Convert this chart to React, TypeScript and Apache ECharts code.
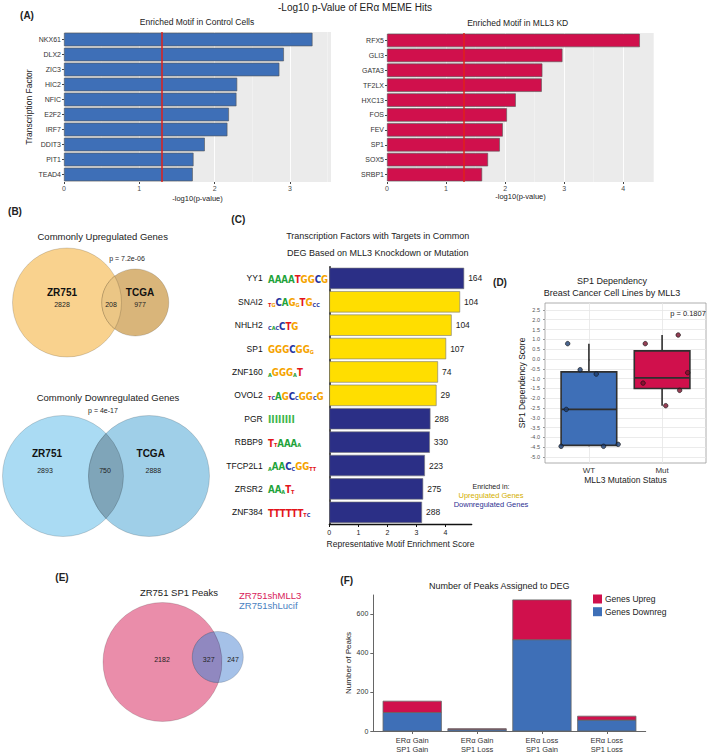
import React, { useEffect, useRef } from "react";
import * as echarts from "echarts";

// ---------- Panel A data ----------
const ctrlFactors = ["NKX61", "DLX2", "ZIC3", "HIC2", "NFIC", "E2F2", "IRF7", "DDIT3", "PIT1", "TEAD4"];
const ctrlLogP = [3.3, 2.92, 2.86, 2.3, 2.29, 2.19, 2.17, 1.87, 1.72, 1.71];
const kdFactors = ["RFX5", "GLI3", "GATA3", "TF2LX", "HXC13", "FOS", "FEV", "SP1", "SOX5", "SRBP1"];
const kdLogP = [4.28, 2.97, 2.63, 2.62, 2.18, 2.03, 1.96, 1.91, 1.71, 1.61];
const pThreshold = 1.3;

// ---------- Panel B data ----------
const upCounts = [2828, 208, 977];
const upP = "p = 7.2e-06";
const downCounts = [2893, 750, 2888];
const downP = "p = 4e-17";

// ---------- Panel C data ----------
const cFactors = ["YY1", "SNAI2", "NHLH2", "SP1", "ZNF160", "OVOL2", "PGR", "RBBP9", "TFCP2L1", "ZRSR2", "ZNF384"];
const cScores = [4.64, 4.5, 4.21, 4.02, 3.74, 3.69, 3.48, 3.46, 3.29, 3.23, 3.19];
const cTargets = [164, 104, 104, 107, 74, 29, 288, 330, 223, 275, 288];
const cEnrichedIn = ["down", "up", "up", "up", "up", "up", "down", "down", "down", "down", "down"];
const cMotifs = ["AAAATGGCG", "tgCAGgTGcc", "cacCTG", "GGGCGGg", "aGGGaT", "tcAGCcGGcG", "||||||||", "TtAAAa", "aAACcGGtt", "AAaTt", "TTTTTTtc"];
const cTicks = [0, 1, 2, 3, 4];

// ---------- Panel D data ----------
const dGroups = ["WT", "Mut"];
const wtScores = [0.78, -0.55, -0.77, -2.57, -4.45, -4.45, -4.35];
const wtJitter = [-0.29, -0.12, 0.1, -0.31, -0.38, 0.2, 0.4];
const mutScores = [0.78, 1.22, -0.7, -1.23, -1.6, -2.38];
const mutJitter = [-0.23, 0.22, 0.35, -0.26, 0.24, 0.05];
const dTicks = [-5, -4.5, -4, -3.5, -3, -2.5, -2, -1.5, -1, -0.5, 0, 0.5, 1, 1.5, 2, 2.5];
const dP = "p = 0.1807";

// ---------- Panel E data ----------
const peakCounts = [2182, 327, 247];
const peakSets = ["ZR751shMLL3", "ZR751shLucif"];

// ---------- Panel F data ----------
const fCategories = ["ERα Gain\nSP1 Gain", "ERα Gain\nSP1 Loss", "ERα Loss\nSP1 Gain", "ERα Loss\nSP1 Loss"];
const fDown = [95, 8, 468, 56];
const fUp = [58, 4, 204, 20];
const fTicks = [0, 200, 400, 600];

// ---------- styles / layout ----------
const FONT = "Liberation Sans";
const LOGO_FONT = "DejaVu Sans Condensed";
const BLUE = "#3E6FB7";
const RED = "#D0104C";
const NAVY = "#2B2F86";
const YELLOW = "#FFDE00";
const NT: Record<string, string> = { A: "#1FA33A", C: "#2434A0", G: "#F5A300", T: "#E3141B" };

const VENN = {
  up: { c1: [67, 302.5, 54.5], c2: [135.3, 302.5, 33.5], f1: "#F9D28E", f2: "#D9B57A", f12: "#EBC685" },
  down: { c1: [63, 476, 60.5], c2: [149, 476, 60.5], f1: "#AADBF3", f2: "#9FCFE8", f12: "#7FA5B9" },
  peaks: { c1: [162.5, 662, 59.5], c2: [217.8, 657, 25.5], f1: "#EA8DAA", f2: "#A5C1E8", f12: "#9088C0" },
};

function lensPath(c1: number[], c2: number[]) {
  const [x1, y1, r1] = c1;
  const [x2, y2, r2] = c2;
  const dx = x2 - x1, dy = y2 - y1;
  const d = Math.sqrt(dx * dx + dy * dy);
  const a = (d * d + r1 * r1 - r2 * r2) / (2 * d);
  const h = Math.sqrt(Math.max(r1 * r1 - a * a, 0));
  const ux = dx / d, uy = dy / d;
  const mx = x1 + a * ux, my = y1 + a * uy;
  const p1x = mx + h * uy, p1y = my - h * ux;
  const p2x = mx - h * uy, p2y = my + h * ux;
  const large2 = a > d ? 1 : 0;
  const large1 = a < 0 ? 1 : 0;
  return `M${p1x} ${p1y} A${r2} ${r2} 0 ${large2} 0 ${p2x} ${p2y} A${r1} ${r1} 0 ${large1} 0 ${p1x} ${p1y} Z`;
}

let registered = false;
function registerLenses() {
  if (registered) return;
  registered = true;
  (Object.keys(VENN) as (keyof typeof VENN)[]).forEach((k) => {
    const v = VENN[k];
    echarts.graphic.registerShape("lens_" + k, echarts.graphic.extendPath(lensPath(v.c1, v.c2), {}) as any);
  });
}

function txt(text: string, x: number, y: number, o: any = {}) {
  return {
    type: "text",
    x,
    y,
    silent: true,
    style: {
      text,
      fontSize: o.size ?? 9,
      fontWeight: o.bold ? "bold" : "normal",
      fontFamily: FONT,
      fill: o.color ?? "#222",
      textAlign: o.align ?? "center",
      textVerticalAlign: "middle",
    },
  };
}

function vennGraphics(key: keyof typeof VENN) {
  const v = VENN[key];
  const stroke = "rgba(0,0,0,0.25)";
  return [
    { type: "circle", shape: { cx: v.c1[0], cy: v.c1[1], r: v.c1[2] }, style: { fill: v.f1, stroke, lineWidth: 0.6 }, silent: true },
    { type: "circle", shape: { cx: v.c2[0], cy: v.c2[1], r: v.c2[2] }, style: { fill: v.f2, stroke, lineWidth: 0.6 }, silent: true },
    { type: "lens_" + key, x: 0, y: 0, style: { fill: v.f12, stroke, lineWidth: 0.6 }, silent: true },
  ];
}

function quantile(sorted: number[], p: number) {
  const pos = (sorted.length - 1) * p;
  const lo = Math.floor(pos), hi = Math.ceil(pos);
  return sorted[lo] + (sorted[hi] - sorted[lo]) * (pos - lo);
}
function boxStats(vals: number[]) {
  const s = [...vals].sort((a, b) => a - b);
  const q1 = quantile(s, 0.25), med = quantile(s, 0.5), q3 = quantile(s, 0.75);
  const iqr = q3 - q1;
  const lw = s.find((v) => v >= q1 - 1.5 * iqr)!;
  const hw = [...s].reverse().find((v) => v <= q3 + 1.5 * iqr)!;
  return [lw, q1, med, q3, hw];
}

function motifLabel(m: string) {
  return m
    .split("")
    .map((ch) => {
      if (ch === "|") return "{bar|I}";
      if (ch === ch.toUpperCase()) return `{${ch}|${ch}}`;
      return `{${ch}|${ch.toUpperCase()}}`;
    })
    .join("");
}

const motifRich: any = { bar: { fontSize: 10, fontWeight: "bold", fontFamily: LOGO_FONT, color: "#3DB54A", verticalAlign: "bottom", lineHeight: 12 } };
["A", "C", "G", "T"].forEach((n) => {
  motifRich[n] = { fontSize: 9.6, fontWeight: "bold", fontFamily: LOGO_FONT, color: NT[n], verticalAlign: "bottom", lineHeight: 12 };
  motifRich[n.toLowerCase()] = { fontSize: 5.5, fontWeight: "bold", fontFamily: LOGO_FONT, color: NT[n], verticalAlign: "bottom", lineHeight: 12 };
});

function buildOption(): any {
  const boxColors = [BLUE, RED];
  const boxData = [boxStats(wtScores), boxStats(mutScores)].map((s, i) => [i + 1, ...s]);
  const wtPts = wtScores.map((v, i) => [1 + wtJitter[i], v]);
  const mutPts = mutScores.map((v, i) => [2 + mutJitter[i], v]);
  const fData = fDown.map((d, i) => [i + 1, d, fUp[i]]);

  const aX = (max: number, gi: number, nameGap: number) => ({
    gridIndex: gi,
    type: "value",
    min: 0,
    max,
    interval: 1,
    axisLine: { show: false },
    axisTick: { show: true, length: 2, lineStyle: { color: "#444" } },
    axisLabel: { fontSize: 7, color: "#4D4D4D", margin: 3, showMaxLabel: false },
    splitLine: { show: true, lineStyle: { color: "#FFFFFF", width: 0.9 } },
    minorTick: { show: false, splitNumber: 2 },
    minorSplitLine: { show: true, lineStyle: { color: "#F7F7F7", width: 0.5 } },
    name: "-log10(p-value)",
    nameLocation: "middle",
    nameGap,
    nameTextStyle: { fontSize: 7.5, color: "#222", fontFamily: FONT },
  });
  const aY = (data: string[], gi: number, withName: boolean) => ({
    gridIndex: gi,
    type: "category",
    data,
    inverse: true,
    axisLine: { show: false },
    axisTick: { show: true, length: 2, alignWithLabel: true, lineStyle: { color: "#444" } },
    axisLabel: { fontSize: 7, color: "#333", margin: 3, interval: 0 },
    splitLine: { show: false },
    name: withName ? "Transcription Factor" : "",
    nameLocation: "middle",
    nameGap: 31,
    nameTextStyle: { fontSize: 8.5, color: "#222", fontFamily: FONT },
  });
  const aBar = (data: number[], xi: number, color: string) => ({
    type: "bar",
    xAxisIndex: xi,
    yAxisIndex: xi,
    data,
    barCategoryGap: "10%",
    itemStyle: { color, borderColor: "#555", borderWidth: 0.6 },
    markLine: {
      silent: true,
      symbol: "none",
      label: { show: false },
      lineStyle: { color: "#E0201B", width: 1.5, type: "solid" },
      data: [{ xAxis: pThreshold }],
    },
  });

  return {
    animation: false,
    backgroundColor: "#FFFFFF",
    textStyle: { fontFamily: FONT },
    grid: [
      { left: 64, top: 32, width: 267, height: 150, show: true, backgroundColor: "#EBEBEB", borderWidth: 0 },
      { left: 387, top: 33, width: 267, height: 149, show: true, backgroundColor: "#EBEBEB", borderWidth: 0 },
      { left: 329.3, top: 266.7, width: 142.4, height: 257.3 },
      { left: 545, top: 303, width: 161, height: 160, show: true, backgroundColor: "#FFFFFF", borderColor: "#9A9A9A", borderWidth: 0.8 },
      { left: 373.3, top: 595, width: 272.4, height: 137 },
    ],
    xAxis: [
      aX(3.546, 0, 12),
      aX(4.52, 1, 9),
      {
        gridIndex: 2,
        type: "value",
        min: 0,
        max: 4.9,
        axisLine: { show: true, lineStyle: { color: "#111", width: 1.3 } },
        axisTick: { show: true, length: 3, customValues: cTicks, lineStyle: { color: "#111" } },
        axisLabel: { fontSize: 7, color: "#222", margin: 5, customValues: cTicks },
        splitLine: { show: false },
        name: "Representative Motif Enrichment Score",
        nameLocation: "middle",
        nameGap: 15,
        nameTextStyle: { fontSize: 8.5, color: "#222", fontFamily: FONT },
      },
      {
        gridIndex: 3,
        type: "value",
        min: 0.4,
        max: 2.6,
        axisLine: { show: false },
        axisTick: { show: true, length: 2, customValues: [1, 2], lineStyle: { color: "#999" } },
        axisLabel: { fontSize: 8, color: "#333", margin: 3, customValues: [1, 2], formatter: (v: number) => dGroups[Math.round(v) - 1] ?? "" },
        splitLine: { show: true, lineStyle: { color: "#E6E6E6", width: 0.8 } },
        name: "MLL3 Mutation Status",
        nameLocation: "middle",
        nameGap: 12,
        nameTextStyle: { fontSize: 8.5, color: "#222", fontFamily: FONT },
      },
      {
        gridIndex: 4,
        type: "value",
        min: 0.4,
        max: 4.6,
        axisLine: { show: true, lineStyle: { color: "#666", width: 1 } },
        axisTick: { show: true, length: 3, customValues: [1, 2, 3, 4], lineStyle: { color: "#666" } },
        axisLabel: {
          fontSize: 7.5,
          lineHeight: 9,
          color: "#333",
          margin: 5,
          customValues: [1, 2, 3, 4],
          formatter: (v: number) => fCategories[Math.round(v) - 1] ?? "",
        },
        splitLine: { show: false },
      },
    ],
    yAxis: [
      aY(ctrlFactors, 0, true),
      aY(kdFactors, 1, false),
      {
        gridIndex: 2,
        type: "category",
        data: cFactors,
        inverse: true,
        position: "left",
        axisLine: { show: true, lineStyle: { color: "#111", width: 1.5 } },
        axisTick: { show: false },
        axisLabel: { fontSize: 8.5, color: "#111", margin: 66.6, interval: 0 },
      },
      {
        gridIndex: 2,
        type: "category",
        data: cFactors,
        inverse: true,
        position: "left",
        offset: 0,
        axisLine: { show: false },
        axisTick: { show: false },
        axisLabel: {
          interval: 0,
          align: "left",
          margin: 61.3,
          formatter: (_v: string, i: number) => motifLabel(cMotifs[i]),
          rich: motifRich,
        },
      },
      {
        gridIndex: 3,
        type: "value",
        min: -5.3,
        max: 2.85,
        axisLine: { show: false },
        axisTick: { show: true, length: 2, customValues: dTicks, lineStyle: { color: "#999" } },
        axisLabel: { fontSize: 5.5, color: "#555", margin: 5, customValues: dTicks, formatter: (v: number) => v.toFixed(1) },
        splitLine: { show: true, lineStyle: { color: "#E6E6E6", width: 0.8 } },
        name: "SP1 Dependency Score",
        nameLocation: "middle",
        nameGap: 15,
        nameTextStyle: { fontSize: 8.5, color: "#222", fontFamily: FONT },
      },
      {
        gridIndex: 4,
        type: "value",
        min: 0,
        max: 697,
        axisLine: { show: true, lineStyle: { color: "#666", width: 1 } },
        axisTick: { show: true, length: 3, customValues: fTicks, lineStyle: { color: "#666" } },
        axisLabel: { fontSize: 7, color: "#333", margin: 5, customValues: fTicks },
        splitLine: { show: false },
        name: "Number of Peaks",
        nameLocation: "middle",
        nameGap: 20,
        nameTextStyle: { fontSize: 8, color: "#222", fontFamily: FONT },
      },
    ],
    legend: {
      data: ["Genes Upreg", "Genes Downreg"],
      orient: "vertical",
      left: 588,
      top: 589.5,
      itemWidth: 9,
      itemHeight: 9,
      itemGap: 3.7,
      icon: "rect",
      selectedMode: false,
      textStyle: { fontSize: 8.5, color: "#222", fontFamily: FONT, padding: [0, 0, 0, -2] },
    },
    series: [
      aBar(ctrlLogP, 0, BLUE),
      aBar(kdLogP, 1, RED),
      {
        type: "bar",
        xAxisIndex: 2,
        yAxisIndex: 2,
        barCategoryGap: "9%",
        data: cScores.map((v, i) => ({
          value: v,
          itemStyle: { color: cEnrichedIn[i] === "up" ? YELLOW : NAVY, borderColor: "#777", borderWidth: 0.6 },
        })),
        label: {
          show: true,
          position: "right",
          distance: 4,
          fontSize: 8.5,
          color: "#222",
          formatter: (p: any) => String(cTargets[p.dataIndex]),
        },
      },
      {
        type: "custom",
        xAxisIndex: 3,
        yAxisIndex: 4,
        data: boxData,
        encode: { x: 0, y: [1, 2, 3, 4, 5] },
        renderItem: (params: any, api: any) => {
          const x = api.value(0);
          const hw = 0.38;
          const lw = api.value(1), q1 = api.value(2), med = api.value(3), q3 = api.value(4), hiw = api.value(5);
          const tl = api.coord([x - hw, q3]);
          const br = api.coord([x + hw, q1]);
          const cx = api.coord([x, 0])[0];
          const yl = api.coord([x, lw])[1];
          const yh = api.coord([x, hiw])[1];
          const ym = api.coord([x, med])[1];
          const ln = { stroke: "#2F2F2F", lineWidth: 1.6 };
          return {
            type: "group",
            children: [
              { type: "line", shape: { x1: cx, y1: yh, x2: cx, y2: tl[1] }, style: ln },
              { type: "line", shape: { x1: cx, y1: br[1], x2: cx, y2: yl }, style: ln },
              {
                type: "rect",
                shape: { x: tl[0], y: tl[1], width: br[0] - tl[0], height: br[1] - tl[1] },
                style: { fill: boxColors[params.dataIndex], stroke: "#2F2F2F", lineWidth: 1.6 },
              },
              { type: "line", shape: { x1: tl[0], y1: ym, x2: br[0], y2: ym }, style: ln },
            ],
          };
        },
      },
      {
        type: "scatter",
        xAxisIndex: 3,
        yAxisIndex: 4,
        data: wtPts,
        symbolSize: 4.5,
        itemStyle: { color: "#1D3E73", borderColor: "#111", borderWidth: 0.8 },
        z: 5,
      },
      {
        type: "scatter",
        xAxisIndex: 3,
        yAxisIndex: 4,
        data: mutPts,
        symbolSize: 4.5,
        itemStyle: { color: "#7A0F2B", borderColor: "#111", borderWidth: 0.8 },
        z: 5,
      },
      {
        type: "custom",
        name: "Genes Downreg",
        xAxisIndex: 4,
        yAxisIndex: 5,
        data: fData,
        itemStyle: { color: BLUE },
        encode: { x: 0, y: 1 },
        renderItem: (_p: any, api: any) => {
          const x = api.value(0);
          const a = api.coord([x - 0.45, api.value(1)]);
          const b = api.coord([x + 0.45, 0]);
          return {
            type: "rect",
            shape: { x: a[0], y: a[1], width: b[0] - a[0], height: b[1] - a[1] },
            style: { fill: BLUE, stroke: "#666", lineWidth: 0.8 },
          };
        },
      },
      {
        type: "custom",
        name: "Genes Upreg",
        xAxisIndex: 4,
        yAxisIndex: 5,
        data: fData,
        itemStyle: { color: RED },
        encode: { x: 0, y: 2 },
        renderItem: (_p: any, api: any) => {
          const x = api.value(0);
          const base = api.value(1);
          const a = api.coord([x - 0.45, base + api.value(2)]);
          const b = api.coord([x + 0.45, base]);
          return {
            type: "rect",
            shape: { x: a[0], y: a[1], width: b[0] - a[0], height: b[1] - a[1] },
            style: { fill: RED, stroke: "#666", lineWidth: 0.8 },
          };
        },
      },
    ],
    graphic: [
      // Panel A texts
      txt("-Log10 p-Value of ERα MEME Hits", 355, 7, { size: 10 }),
      txt("(A)", 27, 15.5, { size: 10, bold: true }),
      txt("Enriched Motif in Control Cells", 197, 21.7, { size: 8.5 }),
      txt("Enriched Motif in MLL3 KD", 517.7, 23.3, { size: 8.5 }),
      // Panel B
      txt("(B)", 15, 211, { size: 10, bold: true }),
      txt("Commonly Upregulated Genes", 102.7, 236, { size: 9.5 }),
      txt(upP, 127, 258, { size: 7 }),
      ...vennGraphics("up"),
      txt("ZR751", 62, 292.7, { size: 10, bold: true, color: "#111" }),
      txt(String(upCounts[0]), 62, 304, { size: 7 }),
      txt(String(upCounts[1]), 111, 304, { size: 7 }),
      txt("TCGA", 140, 292.7, { size: 10, bold: true, color: "#111" }),
      txt(String(upCounts[2]), 140, 304, { size: 7 }),
      txt("Commonly Downregulated Genes", 108, 397.7, { size: 9.5 }),
      txt(downP, 103, 410, { size: 7 }),
      ...vennGraphics("down"),
      txt("ZR751", 47, 453.7, { size: 10, bold: true, color: "#111" }),
      txt(String(downCounts[0]), 45, 470.7, { size: 7 }),
      txt(String(downCounts[1]), 105, 470.7, { size: 7 }),
      txt("TCGA", 150.7, 453.7, { size: 10, bold: true, color: "#111" }),
      txt(String(downCounts[2]), 153.3, 470.7, { size: 7 }),
      // Panel C
      txt("(C)", 238.3, 219, { size: 10, bold: true }),
      txt("Transcription Factors with Targets in Common", 377.7, 236, { size: 9 }),
      txt("DEG Based on MLL3 Knockdown or Mutation", 377.7, 253.3, { size: 9 }),
      txt("Enriched in:", 491, 486, { size: 7 }),
      txt("Upregulated Genes", 491, 495, { size: 7.5, color: "#D4AF00" }),
      txt("Downregulated Genes", 491, 504, { size: 7.5, color: "#2E3192" }),
      // Panel D
      txt("(D)", 500, 282, { size: 10, bold: true }),
      txt("SP1 Dependency", 612, 281, { size: 9 }),
      txt("Breast Cancer Cell Lines by MLL3", 612, 293, { size: 9 }),
      txt(dP, 688, 313.3, { size: 7.5 }),
      // Panel E
      txt("(E)", 62, 577.7, { size: 10, bold: true }),
      txt("ZR751 SP1 Peaks", 179, 592.7, { size: 9.5 }),
      txt(peakSets[0], 239, 595, { size: 9.5, color: "#D8195A", align: "left" }),
      txt(peakSets[1], 239, 605.7, { size: 9.5, color: "#4A7FC1", align: "left" }),
      ...vennGraphics("peaks"),
      txt(String(peakCounts[0]), 162, 659.3, { size: 7 }),
      txt(String(peakCounts[1]), 208.7, 659.3, { size: 7 }),
      txt(String(peakCounts[2]), 233, 659.3, { size: 7 }),
      // Panel F
      txt("(F)", 346.7, 580, { size: 10, bold: true }),
      txt("Number of Peaks Assigned to DEG", 499.3, 586, { size: 9 }),
    ],
  };
}

export default function App() {
  const ref = useRef<HTMLDivElement>(null);
  useEffect(() => {
    if (!ref.current) return;
    registerLenses();
    const chart = echarts.init(ref.current, null, { renderer: "svg" });
    chart.setOption(buildOption());
    return () => chart.dispose();
  }, []);
  return <div ref={ref} style={{ position: "absolute", left: 0, top: 0, width: 709, height: 754 }} />;
}
